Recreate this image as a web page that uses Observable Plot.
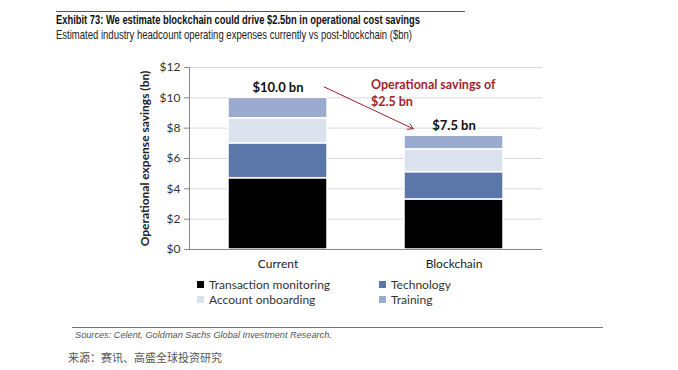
<!DOCTYPE html>
<html>
<head>
<meta charset="utf-8">
<script src="https://cdn.jsdelivr.net/npm/d3@7"></script>
<script src="https://cdn.jsdelivr.net/npm/@observablehq/plot@0.6"></script>
<style>
  html, body { margin: 0; padding: 0; background: #fff; }
  #page { position: relative; width: 678px; height: 370px; overflow: hidden; font-family: Lato, "Liberation Sans", sans-serif; }
  .abs { position: absolute; white-space: nowrap; }
  #rule-top { left: 56px; top: 11px; width: 409px; height: 0; border-top: 1px solid #555; }
  #title { left: 56px; top: 12px; font-family: "Liberation Sans", sans-serif; font-weight: bold; font-size: 13px; color: #111; transform-origin: 0 0; }
  #subtitle { left: 56px; top: 27px; font-family: "Liberation Sans", sans-serif; font-size: 13px; color: #222; transform-origin: 0 0; }
  #chart { left: 0; top: 40px; }
  .leg { font-size: 12px; color: #333; display: flex; align-items: center; }
  .sw { width: 7px; height: 7px; margin-right: 5px; display: inline-block; }
  #rule-bot { left: 72px; top: 327px; width: 531px; height: 0; border-top: 1px solid #777; }
  #source { left: 75px; top: 330px; font-family: "Liberation Sans", sans-serif; font-style: italic; font-size: 9.2px; color: #555; }
  #cn { left: 68px; top: 349px; font-family: "Noto Sans CJK SC", sans-serif; font-size: 11px; color: #555; }
</style>
</head>
<body>
<div id="page">
  <div id="rule-top" class="abs"></div>
  <div id="title" class="abs">Exhibit 73: We estimate blockchain could drive $2.5bn in operational cost savings</div>
  <div id="subtitle" class="abs">Estimated industry headcount operating expenses currently vs post-blockchain ($bn)</div>
  <div id="chart" class="abs"></div>
  <div id="legend"></div>
  <div id="rule-bot" class="abs"></div>
  <div id="source" class="abs">Sources: Celent, Goldman Sachs Global Investment Research.</div>
  <div id="cn" class="abs">来源：赛讯、高盛全球投资研究</div>
</div>
<script>
// ---- data ----
const scenarios = ["Current", "Blockchain"];
const components = ["Transaction monitoring", "Technology", "Account onboarding", "Training"];
const transactionMonitoring = [4.7, 3.3];
const technology = [2.3, 1.8];
const accountOnboarding = [1.65, 1.5];
const training = [1.35, 0.9];
const totals = [10.0, 7.5];
const yTicks = [0, 2, 4, 6, 8, 10, 12];
const colors = ["#000000", "#5b76a9", "#dbe2ee", "#9aabcf"];
const yLabel = "Operational expense savings (bn)";
const annotation = "Operational savings of\n$2.5 bn";

const seriesValues = [transactionMonitoring, technology, accountOnboarding, training];
const rows = [];
components.forEach((c, ci) => {
  scenarios.forEach((s, si) => rows.push({scenario: s, component: c, value: seriesValues[ci][si]}));
});
const totalRows = scenarios.map((s, i) => ({scenario: s, total: totals[i]}));

const font = "Lato, 'Liberation Sans', sans-serif";

const chart = Plot.plot({
  width: 678,
  height: 240,
  marginTop: 27,
  marginBottom: 31,
  marginLeft: 189,
  marginRight: 136,
  style: {fontFamily: font, fontSize: "12px", color: "#333", background: "transparent"},
  x: {domain: scenarios, paddingInner: 0.44, paddingOuter: 0.22, axis: null},
  y: {domain: [0, 12], axis: null},
  color: {domain: components, range: colors},
  marks: [
    Plot.gridY(yTicks.slice(1), {stroke: "#d9d9d9", strokeOpacity: 1}),
    Plot.barY(rows, {x: "scenario", y: "value", fill: "component", stroke: "white", strokeWidth: 1.5}),
    Plot.ruleY([0], {stroke: "#888"}),
    Plot.frame({anchor: "left", stroke: "#888"}),
    Plot.axisY({
      ticks: yTicks, tickSize: 5, tickPadding: 4, stroke: "#888",
      tickFormat: d => "$" + d, fontSize: 12, fill: "#333", label: null
    }),
    Plot.text([yLabel], {frameAnchor: "left", textAnchor: "middle", rotate: -90, dx: -44, text: d => d, fontWeight: "bold", fontSize: 12, fill: "#222"}),
    Plot.axisX({ticks: scenarios, tickSize: 0, tickPadding: 10, fontSize: 12, fill: "#222", label: null}),
    Plot.text(totalRows, {x: "scenario", y: "total", text: d => "$" + d.total.toFixed(1) + " bn", dy: -10, fontWeight: "bold", fontSize: 13, fill: "#111"}),
    Plot.arrow([0], {
      x1: () => scenarios[0], x2: () => scenarios[1],
      y1: () => totals[0] + 2.15, y2: () => totals[1] - 0.8,
      insetStart: 51, insetEnd: 45, bend: 0, headLength: 9, stroke: "#a11f30", strokeWidth: 1
    }),
    Plot.text([annotation], {
      x: () => scenarios[1], y: () => totals[0] + 0.4, text: d => d, dx: -83,
      textAnchor: "start", lineHeight: 1.4, fontWeight: "bold", fontSize: 12.5, fill: "#a11f30"
    })
  ]
});
document.getElementById("chart").appendChild(chart);

// legend 2x2
const legendPos = [[197, 277], [379, 277], [197, 292], [379, 292]];
const legend = document.getElementById("legend");
components.forEach((c, ci) => {
  const d = document.createElement("div");
  d.className = "abs leg";
  d.style.left = legendPos[ci][0] + "px";
  d.style.top = legendPos[ci][1] + "px";
  d.innerHTML = `<span class="sw" style="background:${colors[ci]}"></span>${c}`;
  legend.appendChild(d);
});

// condense title lines to the reference's narrow typeface width
function fit(id, target) {
  const el = document.getElementById(id);
  const w = el.getBoundingClientRect().width;
  if (w > 0) el.style.transform = `scaleX(${target / w})`;
}
fit("title", 364);
fit("subtitle", 356);
</script>
</body>
</html>
